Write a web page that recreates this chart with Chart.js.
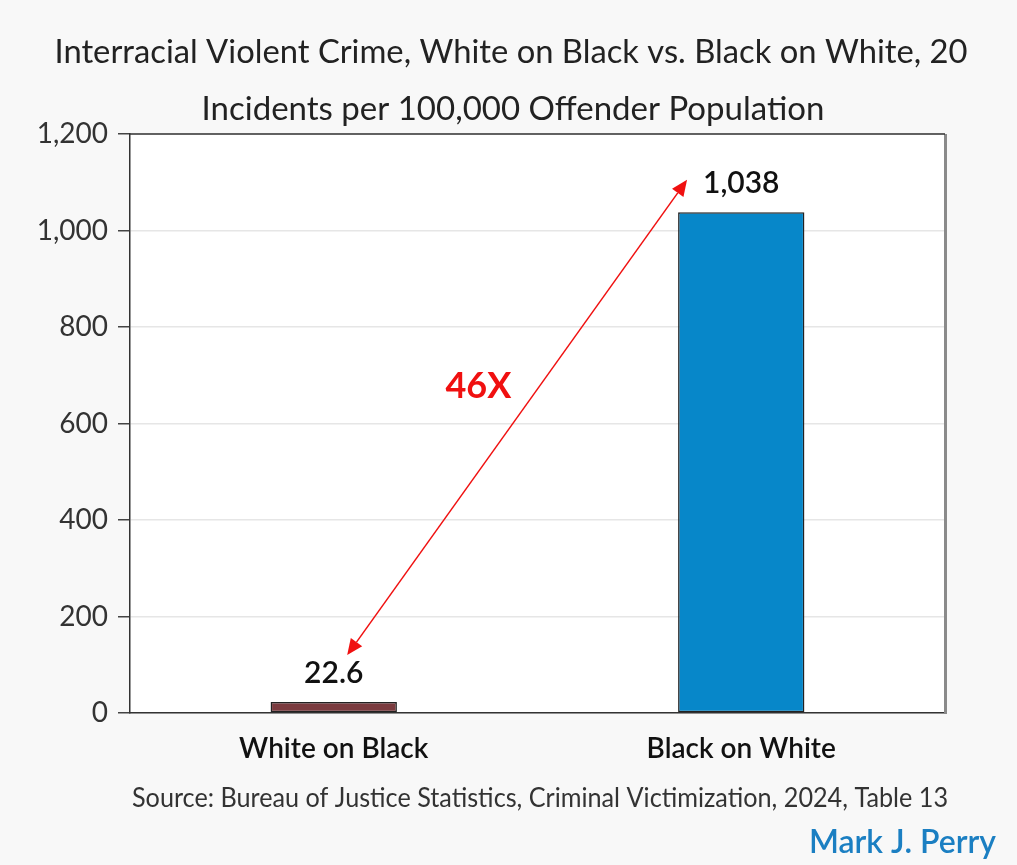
<!DOCTYPE html>
<html>
<head>
<meta charset="utf-8">
<script src="https://cdn.jsdelivr.net/npm/chart.js@4.4.1/dist/chart.umd.min.js"></script>
<style>
  html, body { margin: 0; padding: 0; background: #f8f8f8; }
  #wrap { width: 1017px; height: 865px; position: relative; }
</style>
</head>
<body>
<div id="wrap"><canvas id="c" width="1017" height="865"></canvas></div>
<script>
const categories = ["White on Black", "Black on White"];
const values = [22.6, 1038];
const valueLabels = ["22.6", "1,038"];
const barColors = ["#7b3b3f", "#0787c9"];
const yTicks = [0, 200, 400, 600, 800, 1000, 1200];
const titleLines = ["Interracial Violent Crime, White on Black vs. Black on White, 20", "Incidents per 100,000 Offender Population"];
const sourceText = "Source: Bureau of Justice Statistics, Criminal Victimization, 2024, Table 13";
const authorText = "Mark J. Perry";
// arrow annotation in data coordinates: [category index, value]
const arrowFrom = [0.033, 120];
const arrowTo = [0.867, 1105];
const ratioLabel = "46X";
const ratioPos = [0.355, 676];

const FONT = "Lato, 'Open Sans', sans-serif";

const overlay = {
  id: 'overlay',
  beforeDraw(chart) {
    const ctx = chart.ctx, a = chart.chartArea;
    ctx.save();
    ctx.fillStyle = '#f8f8f8';
    ctx.fillRect(0, 0, chart.width, chart.height);
    ctx.fillStyle = '#ffffff';
    ctx.fillRect(a.left, a.top, a.right - a.left, a.bottom - a.top);
    ctx.restore();
  },
  afterDraw(chart) {
    const ctx = chart.ctx, a = chart.chartArea;
    const xs = chart.scales.x, ys = chart.scales.y;
    ctx.save();
    // frame
    ctx.strokeStyle = '#8a8a8a';
    ctx.lineWidth = 3;
    ctx.beginPath(); ctx.moveTo(a.right + 0.5, a.top); ctx.lineTo(a.right + 0.5, a.bottom + 1); ctx.stroke();
    ctx.strokeStyle = '#333';
    ctx.lineWidth = 1.5;
    ctx.beginPath(); ctx.moveTo(a.left, a.top); ctx.lineTo(a.right, a.top); ctx.stroke();

    // value labels
    ctx.fillStyle = '#111';
    ctx.font = "600 30px " + FONT;
    ctx.textAlign = 'center';
    ctx.textBaseline = 'alphabetic';
    const meta = chart.getDatasetMeta(0);
    meta.data.forEach((bar, i) => {
      ctx.fillText(valueLabels[i], bar.x, bar.y - 19);
    });

    // arrow
    const x1 = xs.getPixelForValue(arrowFrom[0]), y1 = ys.getPixelForValue(arrowFrom[1]);
    const x2 = xs.getPixelForValue(arrowTo[0]), y2 = ys.getPixelForValue(arrowTo[1]);
    const ang = Math.atan2(y2 - y1, x2 - x1);
    const hl = 16, hw = 7;
    ctx.strokeStyle = '#f01010';
    ctx.fillStyle = '#f01010';
    ctx.lineWidth = 1.5;
    ctx.beginPath();
    ctx.moveTo(x1 + Math.cos(ang) * hl, y1 + Math.sin(ang) * hl);
    ctx.lineTo(x2 - Math.cos(ang) * hl, y2 - Math.sin(ang) * hl);
    ctx.stroke();
    function head(tx, ty, dir) {
      const bx = tx - Math.cos(dir) * hl, by = ty - Math.sin(dir) * hl;
      ctx.beginPath();
      ctx.moveTo(tx, ty);
      ctx.lineTo(bx + Math.sin(dir) * hw, by - Math.cos(dir) * hw);
      ctx.lineTo(bx - Math.sin(dir) * hw, by + Math.cos(dir) * hw);
      ctx.closePath();
      ctx.fill();
    }
    head(x2, y2, ang);
    head(x1, y1, ang + Math.PI);

    // ratio label
    ctx.font = "bold 36px " + FONT;
    ctx.textBaseline = 'middle';
    ctx.fillText(ratioLabel, xs.getPixelForValue(ratioPos[0]), ys.getPixelForValue(ratioPos[1]));

    // title
    ctx.fillStyle = '#222';
    ctx.textBaseline = 'alphabetic';
    ctx.font = "normal 33px " + FONT;
    ctx.fillText(titleLines[0], 511, 63, 913);
    ctx.fillText(titleLines[1], 513, 120, 626);

    // source
    ctx.fillStyle = '#333';
    ctx.font = "normal 26px " + FONT;
    ctx.fillText(sourceText, 540, 807, 816);

    // author
    ctx.fillStyle = '#1b7fc2';
    ctx.font = "600 32px " + FONT;
    ctx.textAlign = 'right';
    ctx.fillText(authorText, 996, 853, 206);
    ctx.restore();
  }
};

new Chart(document.getElementById('c'), {
  type: 'bar',
  data: {
    labels: categories,
    datasets: [{
      data: values,
      backgroundColor: barColors,
      borderColor: '#222',
      borderWidth: 1.5,
      borderSkipped: false,
      barPercentage: 0.31,
      categoryPercentage: 1.0
    }]
  },
  options: {
    responsive: false,
    animation: false,
    devicePixelRatio: 1,
    layout: { padding: { top: 134, right: 72, bottom: 0, left: 0 } },
    plugins: { legend: { display: false }, tooltip: { enabled: false }, title: { display: false } },
    scales: {
      x: {
        grid: { display: false },
        border: { display: true, color: '#333', width: 1.5 },
        ticks: { color: '#111', font: { family: FONT, size: 28, weight: '600' }, padding: 11 },
        afterFit(s) { s.height = 152; }
      },
      y: {
        min: 0, max: 1200,
        afterBuildTicks(s) { s.ticks = yTicks.map(v => ({ value: v })); },
        grid: { color: '#e6e6e6', lineWidth: 1.5, tickLength: 12, tickColor: '#444', tickWidth: 1.5 },
        border: { display: true, color: '#333', width: 1.5 },
        ticks: {
          color: '#333', padding: 10,
          font: { family: FONT, size: 28, weight: 'normal' },
          callback: v => v.toLocaleString('en-US')
        },
        afterFit(s) { s.width = 130; }
      }
    }
  },
  plugins: [overlay]
});
</script>
</body>
</html>
